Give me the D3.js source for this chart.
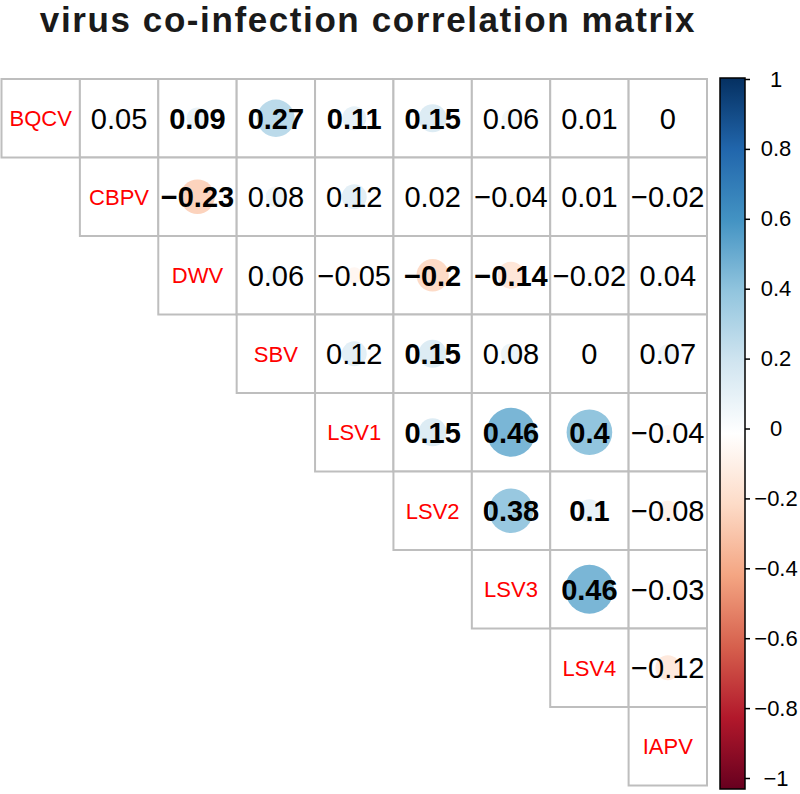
<!DOCTYPE html>
<html>
<head>
<meta charset="utf-8">
<script src="https://cdn.jsdelivr.net/npm/d3@7"></script>
<style>
  html, body { margin: 0; padding: 0; background: #fff; }
  svg { display: block; font-family: "Liberation Sans", Arial, sans-serif; }
</style>
</head>
<body>
<svg id="chart" width="800" height="794"></svg>
<script>
// ---- data ----
const titleText = "virus co-infection correlation matrix";
const viruses = ["BQCV", "CBPV", "DWV", "SBV", "LSV1", "LSV2", "LSV3", "LSV4", "IAPV"];
// upper-triangle correlations, row i holds values for columns i+1 .. n-1
const rowBQCV = [0.05, 0.09, 0.27, 0.11, 0.15, 0.06, 0.01, 0];
const rowCBPV = [-0.23, 0.08, 0.12, 0.02, -0.04, 0.01, -0.02];
const rowDWV  = [0.06, -0.05, -0.2, -0.14, -0.02, 0.04];
const rowSBV  = [0.12, 0.15, 0.08, 0, 0.07];
const rowLSV1 = [0.15, 0.46, 0.4, -0.04];
const rowLSV2 = [0.38, 0.1, -0.08];
const rowLSV3 = [0.46, -0.03];
const rowLSV4 = [-0.12];
const upperRows = [rowBQCV, rowCBPV, rowDWV, rowSBV, rowLSV1, rowLSV2, rowLSV3, rowLSV4, []];
// significant pairs (shown in bold)
const significantPairs = [
  ["BQCV","DWV"], ["BQCV","SBV"], ["BQCV","LSV1"], ["BQCV","LSV2"],
  ["CBPV","DWV"], ["DWV","LSV2"], ["DWV","LSV3"], ["SBV","LSV2"],
  ["LSV1","LSV2"], ["LSV1","LSV3"], ["LSV1","LSV4"],
  ["LSV2","LSV3"], ["LSV2","LSV4"], ["LSV3","LSV4"]
];
const legendTicks = [1, 0.8, 0.6, 0.4, 0.2, 0, -0.2, -0.4, -0.6, -0.8, -1];
const rampStops = [-1, -0.8, -0.6, -0.4, -0.2, 0, 0.2, 0.4, 0.6, 0.8, 1];
const rampColors = ["#67001F", "#B2182B", "#D6604D", "#F4A582", "#FDDBC7", "#FFFFFF",
                    "#D1E5F0", "#92C5DE", "#4393C3", "#2166AC", "#053061"];

// ---- layout ----
const svg = d3.select("#chart");
const gridLeft = 1.5, gridTop = 79, gridRight = 707, gridBottom = 785.5;
const x = d3.scaleBand().domain(viruses).range([gridLeft, gridRight]).padding(0);
const y = d3.scaleBand().domain(viruses).range([gridTop, gridBottom]).padding(0);
const color = d3.scaleLinear().domain(rampStops).range(rampColors).interpolate(d3.interpolateRgb);
const fmt = v => (v < 0 ? "\u2212" : "") + String(Math.abs(v));
const sigSet = new Set(significantPairs.map(p => p.join("|")));

const cells = [];
viruses.forEach((rn, i) => {
  cells.push({ row: rn, col: rn, diag: true });
  upperRows[i].forEach((v, k) => {
    const cn = viruses[i + 1 + k];
    cells.push({ row: rn, col: cn, value: v, diag: false, sig: sigSet.has(rn + "|" + cn) });
  });
});

// title
svg.append("text")
  .attr("x", 368).attr("y", 32)
  .attr("text-anchor", "middle")
  .attr("font-size", 35).attr("font-weight", "bold")
  .attr("letter-spacing", 1.6)
  .attr("fill", "#1a1a1a")
  .text(titleText);

const g = svg.append("g");
const cw = x.bandwidth(), ch = y.bandwidth();

// cell borders
g.selectAll("rect.cell").data(cells).join("rect")
  .attr("class", "cell")
  .attr("x", d => x(d.col)).attr("y", d => y(d.row))
  .attr("width", cw).attr("height", ch)
  .attr("fill", "#fff")
  .attr("stroke", "#BEBEBE").attr("stroke-width", 2);

// circles
const offs = cells.filter(d => !d.diag);
g.selectAll("circle.c").data(offs).join("circle")
  .attr("class", "c")
  .attr("cx", d => x(d.col) + cw / 2)
  .attr("cy", d => y(d.row) + ch / 2)
  .attr("r", d => 0.46 * Math.sqrt(Math.abs(d.value)) * cw)
  .attr("fill", d => color(d.value));

// numbers
g.selectAll("text.v").data(offs).join("text")
  .attr("class", "v")
  .attr("x", d => x(d.col) + cw / 2)
  .attr("y", d => y(d.row) + ch / 2)
  .attr("dy", "0.36em")
  .attr("text-anchor", "middle")
  .attr("font-size", 29)
  .attr("font-weight", d => d.sig ? "bold" : "normal")
  .attr("fill", "#000")
  .text(d => fmt(d.value));

// diagonal labels
g.selectAll("text.l").data(cells.filter(d => d.diag)).join("text")
  .attr("class", "l")
  .attr("x", d => x(d.col) + cw / 2)
  .attr("y", d => y(d.row) + ch / 2)
  .attr("dy", "0.36em")
  .attr("text-anchor", "middle")
  .attr("font-size", 22)
  .attr("fill", "#FF0000")
  .text(d => d.row);

// ---- colour legend ----
const barX = 720, barW = 25, barTop = 78, barBottom = 789;
const ly = d3.scaleLinear().domain([1, -1]).range([barTop + 1, 778]);
const defs = svg.append("defs");
const grad = defs.append("linearGradient").attr("id", "rampGrad")
  .attr("x1", 0).attr("y1", 1).attr("x2", 0).attr("y2", 0);
rampStops.forEach((s, i) => {
  grad.append("stop").attr("offset", (s + 1) / 2).attr("stop-color", rampColors[i]);
});
svg.append("rect")
  .attr("x", barX).attr("y", barTop)
  .attr("width", barW).attr("height", barBottom - barTop)
  .attr("fill", "url(#rampGrad)")
  .attr("stroke", "#000").attr("stroke-width", 1.5);

const axis = d3.axisRight(ly).tickValues(legendTicks).tickSize(5).tickPadding(0)
  .tickFormat(fmt);
const ax = svg.append("g").attr("transform", `translate(${barX + barW},0)`).call(axis);
ax.select(".domain").remove();
ax.selectAll(".tick line").attr("stroke", "#000").attr("stroke-width", 1.5);
ax.selectAll(".tick text")
  .attr("x", 31).attr("text-anchor", "middle")
  .attr("font-size", 22).attr("font-family", "Liberation Sans, Arial, sans-serif")
  .attr("fill", "#000");
</script>
</body>
</html>
